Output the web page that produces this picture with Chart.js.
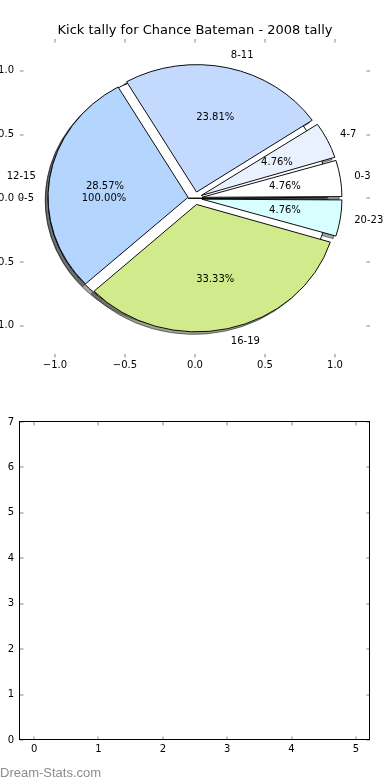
<!DOCTYPE html>
<html lang="en">
<head>
    <meta charset="UTF-8">
    <title>Kick tally for Chance Bateman - 2008 tally</title>
    <script src="https://cdn.jsdelivr.net/npm/chart.js"></script>
    <style>
        body {
            margin: 0;
            background: #fff;
            width: 390px;
            height: 780px;
            position: relative;
            overflow: hidden;
        }
        canvas {
            position: absolute;
            left: 0;
        }
        #axesTop, #pie {
            top: 0;
        }
        #axesBottom {
            top: 390px;
        }
        .credit {
            position: absolute;
            left: 0;
            top: 766px;
            font: 13px "Liberation Sans", sans-serif;
            line-height: 13px;
            color: #8c8c8c;
        }
    </style>
</head>
<body>
    <canvas id="axesTop" width="390" height="380"></canvas>
    <canvas id="pie" width="390" height="380"></canvas>
    <canvas id="axesBottom" width="390" height="390"></canvas>
    <div class="credit">Dream-Stats.com</div>

    <script>
        // data
        const titleText = 'Kick tally for Chance Bateman - 2008 tally';
        const sliceLabels = ['0-3', '4-7', '8-11', '12-15', '16-19', '20-23'];
        const sliceCounts = [1, 1, 5, 6, 7, 1];
        const sliceColors = ['#ffffff', '#e9f0fe', '#c4d9fe', '#b4d6fe', '#d0ea8c', '#d8ffff'];
        const baseLabels = ['0-5'];
        const baseCounts = [1];
        const baseColors = ['#ffffff'];
        const pieTicks = [-1, -0.5, 0, 0.5, 1];
        const lowerXTicks = [0, 1, 2, 3, 4, 5];
        const lowerYTicks = [0, 1, 2, 3, 4, 5, 6, 7];

        Chart.defaults.font.family = '"DejaVu Sans", sans-serif';
        Chart.defaults.font.size = 10;
        Chart.defaults.color = '#000';

        // pie is drawn in data units, x and y units differ (axes not equal)
        const R = 127.4;
        const SX = 140 / 127.4;
        const EXPLODE = 0.05 * R;
        const SHADOW = 0.02 * R;

        const fmt = v => v.toFixed(1).replace('-', '\u2212');

        // matplotlib style ticks: short, grey, pointing inward on all four sides
        const innerTicks = {
            id: 'innerTicks',
            afterDraw(chart, args, opts) {
                const { ctx, chartArea: a, scales: { x, y } } = chart;
                ctx.save();
                ctx.strokeStyle = '#c2c2c2';
                ctx.lineWidth = 2;
                ctx.beginPath();
                x.ticks.forEach(t => {
                    const px = Math.round(x.getPixelForValue(t.value));
                    ctx.moveTo(px, a.bottom); ctx.lineTo(px, a.bottom - 3.5);
                    ctx.moveTo(px, a.top); ctx.lineTo(px, a.top + 3.5);
                });
                y.ticks.forEach(t => {
                    const py = Math.round(y.getPixelForValue(t.value));
                    ctx.moveTo(a.left, py); ctx.lineTo(a.left + 3.5, py);
                    ctx.moveTo(a.right, py); ctx.lineTo(a.right - 3.5, py);
                });
                ctx.stroke();
                if (opts.frame) {
                    ctx.strokeStyle = '#000';
                    ctx.lineWidth = 1;
                    ctx.strokeRect(Math.round(a.left) - 0.5, Math.round(a.top) - 0.5,
                        Math.round(a.right - a.left), Math.round(a.bottom - a.top));
                }
                ctx.restore();
            }
        };

        function axesOptions(xMin, xMax, xTicks, yMin, yMax, yTicks, tickFmt, padding, xHeight, xPad) {
            return {
                responsive: false,
                animation: false,
                events: [],
                layout: { padding: padding },
                plugins: {
                    legend: { display: false },
                    tooltip: { enabled: false }
                },
                scales: {
                    x: {
                        type: 'linear', min: xMin, max: xMax,
                        grid: { display: false, drawTicks: false },
                        border: { display: false },
                        afterBuildTicks: s => { s.ticks = xTicks.map(v => ({ value: v })); },
                        afterFit: s => { s.height = xHeight; },
                        ticks: { padding: xPad, autoSkip: false, maxRotation: 0, callback: tickFmt }
                    },
                    y: {
                        type: 'linear', min: yMin, max: yMax,
                        grid: { display: false, drawTicks: false },
                        border: { display: false },
                        afterBuildTicks: s => { s.ticks = yTicks.map(v => ({ value: v })); },
                        afterFit: s => { s.width = 20; },
                        ticks: { padding: 6, autoSkip: false, callback: tickFmt }
                    }
                }
            };
        }

        // upper axes (behind the pie)
        const topOpts = axesOptions(-1.25, 1.25, pieTicks, -1.25, 1.25, pieTicks, v => fmt(v),
            { top: 22.4, right: 20, left: 0, bottom: 0 }, 22.5, 2);
        topOpts.plugins.title = {
            display: true, text: titleText, fullSize: false, color: '#000',
            font: { size: 13, weight: 'normal' }, padding: { top: 0, bottom: 1 }
        };
        topOpts.plugins.innerTicks = { frame: false };
        new Chart(document.getElementById('axesTop'), {
            type: 'scatter',
            data: { datasets: [{ data: [] }] },
            options: topOpts,
            plugins: [innerTicks]
        });

        // lower empty axes
        const lowOpts = axesOptions(-0.22, 5.22, lowerXTicks, 0, 7, lowerYTicks, v => String(v),
            { top: 32, right: 20, left: 0, bottom: 0 }, 40, 3);
        lowOpts.plugins.innerTicks = { frame: true };
        new Chart(document.getElementById('axesBottom'), {
            type: 'scatter',
            data: { datasets: [{ data: [] }] },
            options: lowOpts,
            plugins: [innerTicks]
        });

        // stretch the pie into an ellipse, shadows under everything, labels on top
        const pieShape = {
            id: 'pieShape',
            afterDatasetsUpdate(chart) {
                chart.data.datasets.forEach((ds, i) => {
                    chart.getDatasetMeta(i).data.forEach(arc => {
                        const fix = 1 - Math.sin(Math.min(Math.PI, arc.circumference));
                        arc.innerRadius = 0;
                        arc.outerRadius = R - EXPLODE * fix;
                    });
                });
            },
            beforeDatasetsDraw(chart) {
                const { ctx, chartArea: a } = chart;
                const cx = (a.left + a.right) / 2, cy = (a.top + a.bottom) / 2;
                ctx.save();
                ctx.translate(cx, cy);
                ctx.scale(SX, 1);
                ctx.translate(-cx, -cy);
                ctx.save();
                ctx.translate(-SHADOW, SHADOW);
                ctx.filter = 'brightness(0.3)';
                ctx.globalAlpha = 0.5;
                [1, 0].forEach(i => chart.getDatasetMeta(i).data.forEach(arc => arc.draw(ctx)));
                ctx.restore();
            },
            afterDatasetsDraw(chart) {
                const { ctx, chartArea: a } = chart;
                ctx.restore();
                const cx = (a.left + a.right) / 2, cy = (a.top + a.bottom) / 2;
                ctx.save();
                ctx.font = '10px "DejaVu Sans", sans-serif';
                ctx.fillStyle = '#000';
                ctx.textBaseline = 'middle';
                [1, 0].forEach(i => {
                    const ds = chart.data.datasets[i];
                    const total = ds.data.reduce((s, v) => s + v, 0);
                    chart.getDatasetMeta(i).data.forEach((arc, j) => {
                        const mid = (arc.startAngle + arc.endAngle) / 2;
                        const c = Math.cos(mid), s = Math.sin(mid);
                        const lr = EXPLODE + 1.1 * R;
                        const pr = EXPLODE + 0.6 * R;
                        ctx.textAlign = c > 0 ? 'left' : 'right';
                        ctx.fillText(ds.names[j], cx + lr * c * SX, cy + lr * s);
                        ctx.textAlign = 'center';
                        ctx.fillText((ds.data[j] / total * 100).toFixed(2) + '%', cx + pr * c * SX, cy + pr * s);
                    });
                });
                ctx.restore();
            }
        };

        new Chart(document.getElementById('pie'), {
            type: 'pie',
            data: {
                labels: sliceLabels.slice().reverse(),
                datasets: [
                    {
                        data: sliceCounts.slice().reverse(),
                        names: sliceLabels.slice().reverse(),
                        backgroundColor: sliceColors.slice().reverse()
                    },
                    {
                        data: baseCounts,
                        names: baseLabels,
                        backgroundColor: baseColors
                    }
                ]
            },
            options: {
                responsive: false,
                animation: false,
                events: [],
                rotation: 90,
                radius: R,
                clip: false,
                layout: { padding: { top: 16.5, left: 0, right: 0, bottom: 0 } },
                elements: {
                    arc: { borderColor: '#000', borderWidth: 0.9, offset: EXPLODE * 4 }
                },
                plugins: {
                    legend: { display: false },
                    tooltip: { enabled: false }
                }
            },
            plugins: [pieShape]
        });
    </script>
</body>
</html>
